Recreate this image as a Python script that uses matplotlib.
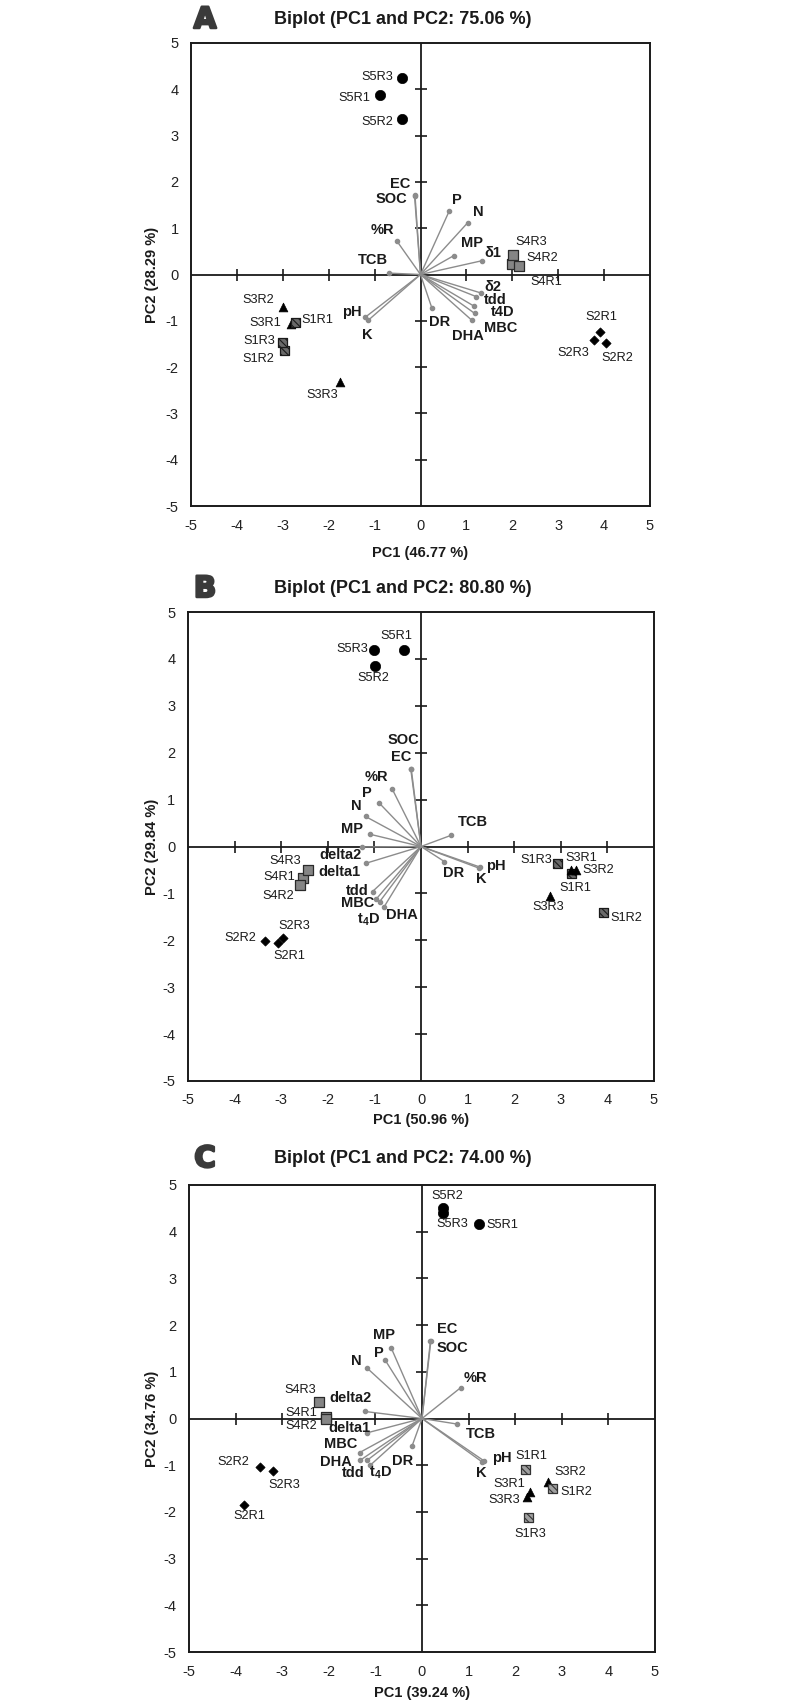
import matplotlib
matplotlib.use("Agg")
import matplotlib.pyplot as plt
import matplotlib.patheffects as pe
import numpy as np

plt.rcParams['font.family'] = ['Liberation Sans', 'DejaVu Sans']
plt.rcParams['mathtext.fontset'] = 'custom'
plt.rcParams['mathtext.rm'] = 'Liberation Sans'
plt.rcParams['mathtext.bf'] = 'Liberation Sans:bold'
plt.rcParams['hatch.linewidth'] = 0.8
plt.rcParams['axes.unicode_minus'] = False

# ---------------- Panel A data ----------------
A_title = "Biplot (PC1 and PC2: 75.06 %)"
A_xlabel = "PC1 (46.77 %)"
A_ylabel = "PC2 (28.29 %)"
A_samples = ["S1R1", "S1R2", "S1R3", "S2R1", "S2R2", "S2R3", "S3R1", "S3R2", "S3R3",
             "S4R1", "S4R2", "S4R3", "S5R1", "S5R2", "S5R3"]
A_pc1 = [-2.72, -2.96, -3.00, 3.90, 4.04, 3.79, -2.82, -2.99, -1.75, 2.00, 2.15, 2.02, -0.89, -0.41, -0.41]
A_pc2 = [-1.03, -1.64, -1.46, -1.25, -1.48, -1.42, -1.07, -0.70, -2.32, 0.23, 0.18, 0.43, 3.88, 3.35, 4.25]
A_vars = ["EC", "SOC", "P", "N", "%R", "MP", "δ1", "TCB", "δ2", "tdd", "t4D", "MBC", "DHA", "DR", "pH", "K"]
A_load1 = [-0.13, -0.12, 0.63, 1.03, -0.52, 0.73, 1.35, -0.69, 1.32, 1.22, 1.16, 1.18, 1.12, 0.25, -1.20, -1.14]
A_load2 = [1.70, 1.71, 1.38, 1.12, 0.73, 0.41, 0.30, 0.03, -0.40, -0.48, -0.68, -0.84, -0.99, -0.73, -0.92, -0.99]

# ---------------- Panel B data ----------------
B_title = "Biplot (PC1 and PC2: 80.80 %)"
B_xlabel = "PC1 (50.96 %)"
B_ylabel = "PC2 (29.84 %)"
B_samples = A_samples
B_pc1 = [3.24, 3.92, 2.92, -3.06, -3.34, -2.97, 3.22, 3.32, 2.77, -2.53, -2.59, -2.42, -0.36, -0.98, -1.01]
B_pc2 = [-0.57, -1.41, -0.36, -2.06, -2.01, -1.95, -0.51, -0.51, -1.06, -0.67, -0.82, -0.50, 4.18, 3.85, 4.19]
B_vars = ["SOC", "EC", "%R", "P", "N", "MP", "TCB", "delta2", "delta1", "tdd", "MBC", "t4D", "DHA", "DR", "pH", "K"]
B_load1 = [-0.21, -0.22, -0.62, -0.90, -1.19, -1.09, 0.65, -1.26, -1.19, -1.04, -0.96, -0.89, -0.80, 0.50, 1.27, 1.24]
B_load2 = [1.66, 1.65, 1.23, 0.93, 0.64, 0.26, 0.24, -0.01, -0.36, -0.96, -1.12, -1.18, -1.30, -0.32, -0.44, -0.46]

# ---------------- Panel C data ----------------
C_title = "Biplot (PC1 and PC2: 74.00 %)"
C_xlabel = "PC1 (39.24 %)"
C_ylabel = "PC2 (34.76 %)"
C_samples = A_samples
C_pc1 = [2.23, 2.80, 2.28, -3.81, -3.48, -3.20, 2.32, 2.71, 2.25, -2.06, -2.06, -2.20, 1.23, 0.46, 0.44]
C_pc2 = [-1.10, -1.49, -2.12, -1.86, -1.03, -1.13, -1.57, -1.36, -1.69, 0.04, -0.02, 0.36, 4.17, 4.50, 4.39]
C_vars = ["EC", "SOC", "MP", "P", "N", "%R", "delta2", "TCB", "delta1", "MBC", "DHA", "tdd", "t4D", "DR", "pH", "K"]
C_load1 = [0.19, 0.18, -0.66, -0.79, -1.19, 0.83, -1.22, 0.76, -1.19, -1.34, -1.32, -1.17, -1.11, -0.21, 1.32, 1.29]
C_load2 = [1.66, 1.65, 1.51, 1.25, 1.09, 0.66, 0.15, -0.12, -0.31, -0.73, -0.89, -0.89, -1.00, -0.58, -0.90, -0.93]

# ---------------- layout / style (not data) ----------------
# label offsets in pixels (dx, dy up)
A_sample_off = {"S1R1": (22, 2), "S1R2": (-26, -9), "S1R3": (-24, 1), "S2R1": (2, 15), "S2R2": (11, -15),
                "S2R3": (-21, -13), "S3R1": (-26, 1), "S3R2": (-25, 7), "S3R3": (-18, -13), "S4R1": (34, -18),
                "S4R2": (23, 8), "S4R3": (18, 13), "S5R1": (-25, -3), "S5R2": (-24, -3), "S5R3": (-24, 1)}
A_var_off = {"EC": (-14, 12), "SOC": (-24, -4), "P": (7, 11), "N": (11, 11), "%R": (-14, 11), "MP": (18, 13),
             "δ1": (10, 8), "TCB": (-16, 13), "δ2": (12, 6), "tdd": (19, -3), "t4D": (29, -6), "MBC": (26, -15),
             "DHA": (-4, -16), "DR": (8, -14), "pH": (-14, 5), "K": (-1, -15)}
B_sample_off = {"S1R1": (3, -15), "S1R2": (23, -5), "S1R3": (-21, 3), "S2R1": (11, -13), "S2R2": (-25, 3),
                "S2R3": (12, 12), "S3R1": (10, 12), "S3R2": (23, 0), "S3R3": (-2, -11), "S4R1": (-24, 1),
                "S4R2": (-22, -11), "S4R3": (-23, 9), "S5R1": (-8, 14), "S5R2": (-2, -12), "S5R3": (-22, 1)}
B_var_off = {"SOC": (-8, 29), "EC": (-10, 12), "%R": (-16, 12), "P": (-12, 10), "N": (-9, 10), "MP": (-18, 5),
             "TCB": (22, 13), "delta2": (-22, -8), "delta1": (-26, -9), "tdd": (-15, 1), "MBC": (-19, -4),
             "t4D": (-11, -18), "DHA": (18, -8), "DR": (9, -11), "pH": (16, 1), "K": (3, -11)}
C_sample_off = {"S1R1": (5, 14), "S1R2": (24, -4), "S1R3": (2, -16), "S2R1": (5, -11), "S2R2": (-26, 5),
                "S2R3": (11, -14), "S3R1": (-21, 8), "S3R2": (22, 10), "S3R3": (-23, -3), "S4R1": (-25, 4),
                "S4R2": (-25, -7), "S4R3": (-19, 12), "S5R1": (23, -1), "S5R2": (4, 12), "S5R3": (10, -11)}
C_var_off = {"EC": (16, 12), "SOC": (22, -7), "MP": (-7, 13), "P": (-6, 7), "N": (-10, 7), "%R": (15, 10),
             "delta2": (-15, 13), "TCB": (23, -10), "delta1": (-17, 5), "MBC": (-19, 9), "DHA": (-25, -2),
             "tdd": (-14, -13), "t4D": (10, -8), "DR": (-10, -15), "pH": (18, 3), "K": (-1, -11)}

site_style = {
    "S1": dict(marker='s', s=42, facecolor='#6a6a6a', edgecolor='#1a1a1a', hatch='\\\\\\\\\\', linewidths=0.9),
    "S2": dict(marker='D', s=22, facecolor='black', edgecolor='black', linewidths=0.5),
    "S3": dict(marker='^', s=40, facecolor='black', edgecolor='black', linewidths=0.5),
    "S4": dict(marker='s', s=55, facecolor='#858585', edgecolor='#2a2a2a', linewidths=0.9),
    "S5": dict(marker='o', s=55, facecolor='black', edgecolor='black', linewidths=0.5),
}
C_S1_style = dict(marker='s', s=42, facecolor='#a0a0a0', edgecolor='#333333', hatch='\\\\\\\\\\', linewidths=0.9)


def fmt_var(v, bold_math):
    if v == "t4D" and bold_math:
        return r'$\mathbf{t_4D}$'
    return v


def draw_panel(ax, pc1, pc2, samples, vars_, l1, l2, s_off, v_off, s1_style=None, sub_t4=False,
               draw_order=None):
    ax.set_xlim(-5, 5)
    ax.set_ylim(-5, 5)
    ax.set_xticks(np.arange(-5, 6, 1))
    ax.set_yticks(np.arange(-5, 6, 1))
    ax.tick_params(length=0, labelsize=10.5, pad=9, colors='#222222')
    for sp in ax.spines.values():
        sp.set_linewidth(1.4)
        sp.set_color('#1a1a1a')
    # center axes
    ax.axhline(0, color='#1a1a1a', lw=1.3, zorder=1)
    ax.axvline(0, color='#1a1a1a', lw=1.3, zorder=1)
    ticks = [t for t in range(-4, 5) if t != 0]
    ax.plot(ticks, [0] * len(ticks), ls='none', marker='|', ms=8, mew=1.2, color='#1a1a1a', zorder=1)
    ax.plot([0] * len(ticks), ticks, ls='none', marker='_', ms=8, mew=1.2, color='#1a1a1a', zorder=1)
    # loadings
    for v, x, y in zip(vars_, l1, l2):
        ax.plot([0, x], [0, y], color='#8c8c8c', lw=1.0, zorder=2)
        ax.plot([x], [y], marker='o', ms=3, color='#8c8c8c', zorder=2)
        dx, dy = v_off[v]
        ax.annotate(fmt_var(v, sub_t4), (x, y), xytext=(dx, dy), textcoords='offset pixels',
                    ha='center', va='center', fontsize=10.5, fontweight='bold', color='#1a1a1a', zorder=5)
    # samples
    order = draw_order if draw_order else ["S3", "S1", "S2", "S4", "S5"]
    for site in order:
        idx = [i for i, s in enumerate(samples) if s.startswith(site)]
        st = dict(site_style[site])
        if site == "S1" and s1_style is not None:
            st = dict(s1_style)
        ax.scatter([pc1[i] for i in idx], [pc2[i] for i in idx], zorder=4, **st)
    for s, x, y in zip(samples, pc1, pc2):
        dx, dy = s_off[s]
        ax.annotate(s, (x, y), xytext=(dx, dy), textcoords='offset pixels',
                    ha='center', va='center', fontsize=9.2, color='#1a1a1a', zorder=5)


fig = plt.figure(figsize=(8.0, 17.05), dpi=100)
H = 1705.0
W = 800.0

def add_axes(l, r, t, b):
    return fig.add_axes([l / W, 1 - b / H, (r - l) / W, (b - t) / H])

axA = add_axes(191, 650, 43, 506)
axB = add_axes(188, 654, 612, 1081)
axC = add_axes(189, 655, 1185, 1652)

draw_panel(axA, A_pc1, A_pc2, A_samples, A_vars, A_load1, A_load2, A_sample_off, A_var_off)
draw_panel(axB, B_pc1, B_pc2, B_samples, B_vars, B_load1, B_load2, B_sample_off, B_var_off, sub_t4=True,
           draw_order=["S1", "S3", "S2", "S4", "S5"])
draw_panel(axC, C_pc1, C_pc2, C_samples, C_vars, C_load1, C_load2, C_sample_off, C_var_off,
           s1_style=C_S1_style, sub_t4=True)

# (ax, title, xlabel, ylabel, letter, baseline y, xlabel centre y)
panels = [(axA, A_title, A_xlabel, A_ylabel, "A", 24, 553),
          (axB, B_title, B_xlabel, B_ylabel, "B", 593, 1120),
          (axC, C_title, C_xlabel, C_ylabel, "C", 1163, 1693)]
for ax, title, xl, yl, letter, by, xly in panels:
    fig.text(403 / W, 1 - by / H, title, ha='center', va='baseline', fontsize=13, fontweight='bold',
             color='#1a1a1a')
    fig.text(205 / W, 1 - (by + 4) / H, letter, ha='center', va='baseline', fontsize=21, fontweight='bold',
             color='#3a3a3a', family=['DejaVu Sans'],
             path_effects=[pe.withStroke(linewidth=1.8, foreground='#3a3a3a')])
    pos = ax.get_position()
    fig.text((pos.x0 + pos.x1) / 2, 1 - xly / H, xl, ha='center', va='center', fontsize=10.5,
             fontweight='bold', color='#1a1a1a')
    fig.text(152 / W, (pos.y0 + pos.y1) / 2, yl, ha='center', va='center', rotation=90, fontsize=10.5,
             fontweight='bold', color='#1a1a1a')

fig.savefig("out.png", dpi=100, facecolor='white')
